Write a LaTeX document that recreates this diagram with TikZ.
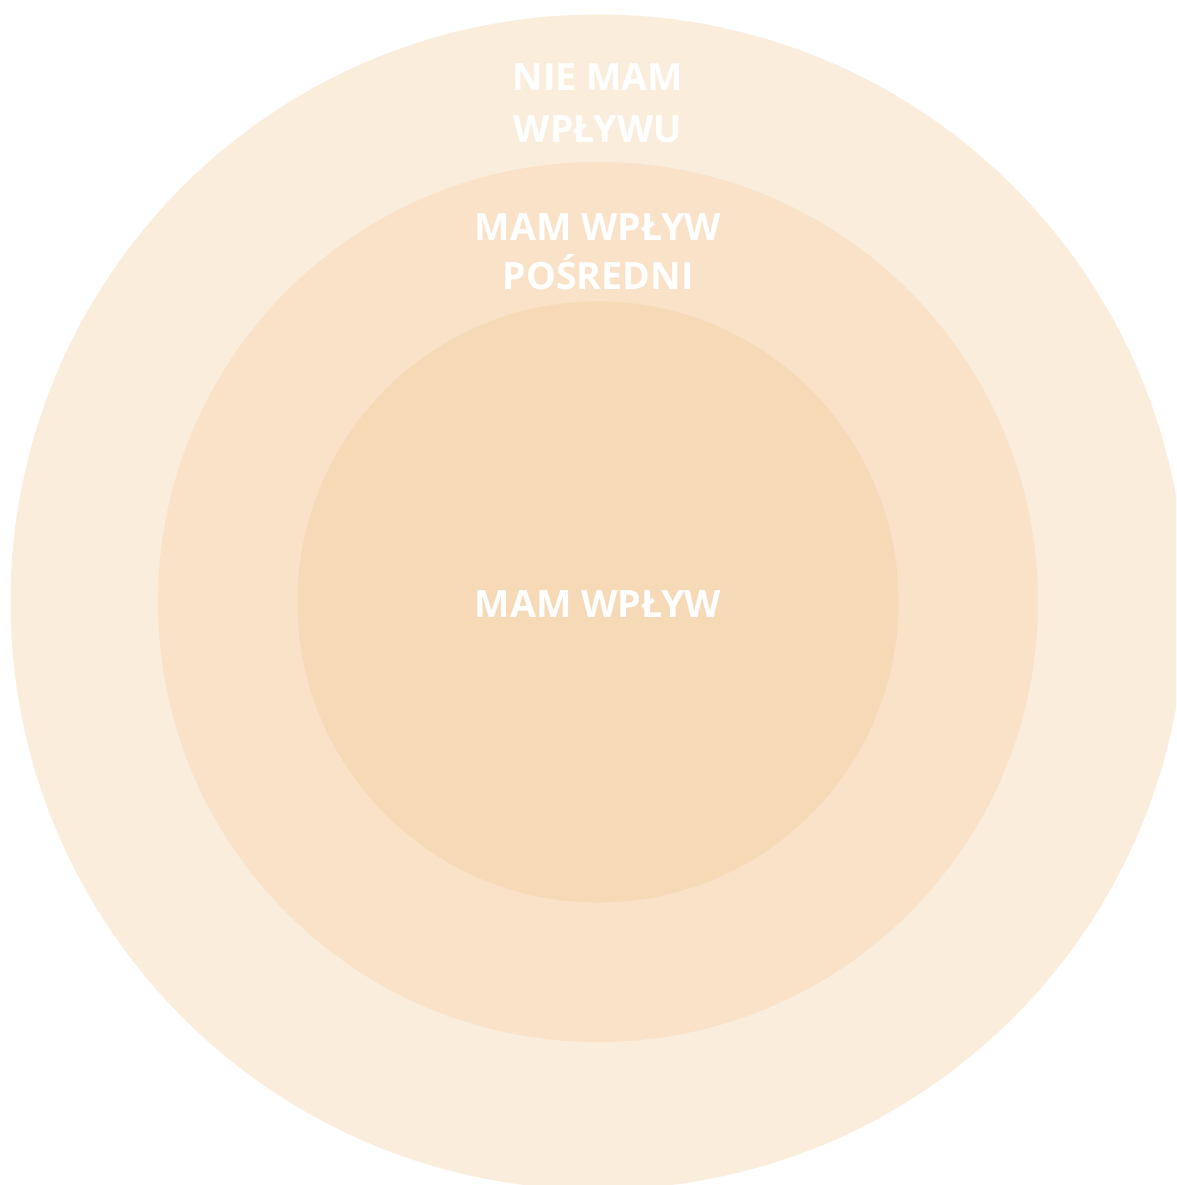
\documentclass[tikz,border=0pt]{standalone}
\usepackage{fontspec}
\setmainfont{Open Sans}
\usepackage{tikz}
\usepackage{xcolor}

\definecolor{outerc}{HTML}{FAEDDC}
\definecolor{middlec}{HTML}{F9E2C7}
\definecolor{innerc}{HTML}{F6D9B7}

\tikzset{
  ring/.style={circle, inner sep=0pt, draw=none},
  zone/.style={text=white, font=\bfseries\fontsize{37.6}{52}\selectfont, align=center, inner sep=0pt}
}

\begin{document}
\begin{tikzpicture}[x=1pt, y=-1pt]
\useasboundingbox (0,0) rectangle (1176,1185);
\clip (0,0) rectangle (1176,1185);
\fill[white] (0,0) rectangle (1176,1185);
\node[ring, fill=outerc, minimum size=1175pt] (outer) at (598,602) {};
\node[ring, fill=middlec, minimum size=880pt] (middle) at (outer.center) {};
\node[ring, fill=innerc, minimum size=601pt] (inner) at (outer.center) {};
\node[zone] (nowpl) at (598,103) {NIE MAM\\WPŁYWU};
\node[zone, font=\bfseries\fontsize{37.6}{49}\selectfont] (posr) at (598,252) {MAM WPŁYW\\POŚREDNI};
\node[zone] (wpl) at ([yshift=-2pt]inner.center) {MAM WPŁYW};
\end{tikzpicture}
\end{document}
